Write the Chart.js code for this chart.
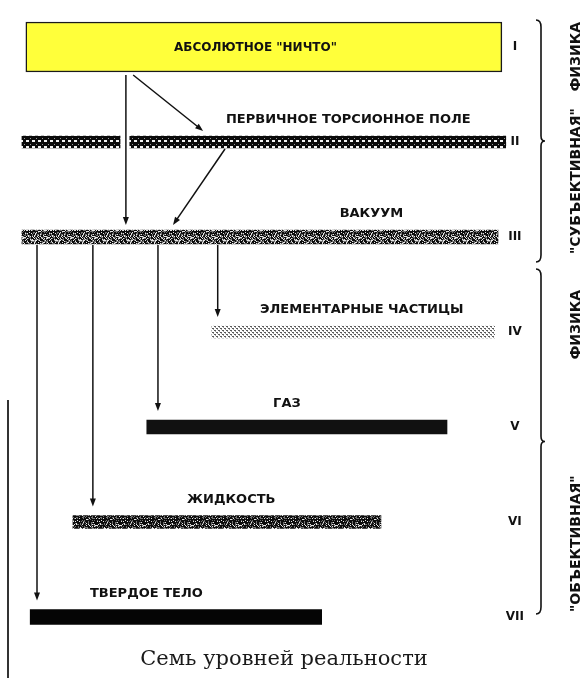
<!DOCTYPE html>
<html>
<head>
<meta charset="utf-8">
<script src="https://cdn.jsdelivr.net/npm/chart.js@4.4.0/dist/chart.umd.min.js"></script>
<style>
  html, body { margin: 0; padding: 0; background: #fff; }
</style>
</head>
<body>
<canvas id="myChart" width="584" height="678"></canvas>
<script>
var levelLabels = ['I', 'II', 'III', 'IV', 'V', 'VI', 'VII']
var levelNames = ['АБСОЛЮТНОЕ "НИЧТО"', 'ПЕРВИЧНОЕ ТОРСИОННОЕ ПОЛЕ', 'ВАКУУМ', 'ЭЛЕМЕНТАРНЫЕ ЧАСТИЦЫ', 'ГАЗ', 'ЖИДКОСТЬ', 'ТВЕРДОЕ ТЕЛО']
// extent of each level on a 0..100 horizontal scale
var levelSpans = [[1.2, 99.2], [0.4, 20.6], [0.4, 98.4], [39.5, 97.7], [26.1, 87.9], [10.9, 74.3], [2.1, 62.1]]
// level II is broken in two pieces
var secondSpans = [null, [22.6, 100], null, null, null, null, null]
// arrows: level they leave, level they reach, x at start, x at end
var arrowFrom = [0, 0, 1, 2, 2, 2, 2]
var arrowTo = [1, 2, 2, 3, 4, 5, 6]
var arrowX1 = [23.3, 21.8, 42.2, 40.7, 28.4, 15.0, 3.5]
var arrowX2 = [37.7, 21.8, 31.5, 40.7, 28.4, 15.0, 3.5]
var groupNames = [['"СУБЪЕКТИВНАЯ"', 'ФИЗИКА'], ['"ОБЪЕКТИВНАЯ"', 'ФИЗИКА']]
var caption = 'Семь уровней реальности'

// where the level names start (x on the same scale)
var nameX = [31.7, 42.4, 65.8, 49.4, 52.1, 34.4, 14.4]
var thick = [50, 12, 14, 12, 14, 13, 15]

let ctx = document.getElementById('myChart').getContext('2d')

function makePattern(w, h, paint) {
    let c = document.createElement('canvas')
    c.width = w
    c.height = h
    paint(c.getContext('2d'))
    return ctx.createPattern(c, 'repeat')
}

// fixed speckle texture (hash, not random)
function speckle(dark, mid) {
    return makePattern(24, 16, function (g) {
        for (let yy = 0; yy < 16; yy++) {
            for (let xx = 0; xx < 24; xx++) {
                let n = Math.imul(xx, 374761393) + Math.imul(yy, 668265263)
                n = Math.imul(n ^ (n >>> 13), 1274126177)
                n = (n ^ (n >>> 16)) >>> 0
                let r = (n % 1000) / 1000
                g.fillStyle = r < dark ? '#0c0c0c' : r < mid ? '#707070' : '#e6e6e6'
                g.fillRect(xx, yy, 1, 1)
            }
        }
    })
}

let beads = makePattern(6, 6, function (g) {
    g.fillStyle = '#0a0a0a'
    g.fillRect(0, 0, 6, 6)
    g.fillStyle = '#f4f4f4'
    g.fillRect(2, 2, 3, 2)
    g.fillStyle = '#9a9a9a'
    g.fillRect(0, 0, 1, 1)
})
let dots = makePattern(4, 4, function (g) {
    g.fillStyle = '#ffffff'
    g.fillRect(0, 0, 4, 4)
    g.fillStyle = '#5a5a5a'
    g.fillRect(0, 0, 2, 1)
    g.fillRect(2, 2, 2, 1)
    g.fillStyle = '#a0a0a0'
    g.fillRect(1, 1, 1, 1)
    g.fillRect(3, 3, 1, 1)
})

let fills = ['#ffff3a', beads, speckle(0.52, 0.82), dots, '#111111', speckle(0.72, 0.9), '#050505']

let datasets = levelLabels.map(function (l, i) {
    return {
        label: l,
        data: levelLabels.map(function (_, j) { return j === i ? levelSpans[i] : null }),
        backgroundColor: fills[i],
        borderColor: '#1a1a1a',
        borderWidth: i === 0 ? 1.5 : 0,
        borderSkipped: false,
        barThickness: thick[i],
        grouped: false,
        clip: false
    }
})
datasets.push({
    label: 'II b',
    data: secondSpans,
    backgroundColor: beads,
    borderWidth: 0,
    barThickness: thick[1],
    grouped: false,
    clip: false
})

function arrow(x1, y1, x2, y2) {
    let a = Math.atan2(y2 - y1, x2 - x1)
    let L = 8, W = 3
    ctx.beginPath()
    ctx.moveTo(x1, y1)
    ctx.lineTo(x2 - 4 * Math.cos(a), y2 - 4 * Math.sin(a))
    ctx.stroke()
    ctx.beginPath()
    ctx.moveTo(x2, y2)
    ctx.lineTo(x2 - L * Math.cos(a) + W * Math.sin(a), y2 - L * Math.sin(a) - W * Math.cos(a))
    ctx.lineTo(x2 - L * Math.cos(a) - W * Math.sin(a), y2 - L * Math.sin(a) + W * Math.cos(a))
    ctx.closePath()
    ctx.fill()
}

function brace(xb, top, bottom) {
    let mid = (top + bottom) / 2, w = 5
    ctx.beginPath()
    ctx.moveTo(xb - w, top)
    ctx.quadraticCurveTo(xb, top, xb, top + w + 2)
    ctx.lineTo(xb, mid - 5)
    ctx.quadraticCurveTo(xb, mid, xb + w - 1, mid)
    ctx.quadraticCurveTo(xb, mid, xb, mid + 5)
    ctx.lineTo(xb, bottom - w - 2)
    ctx.quadraticCurveTo(xb, bottom, xb - w, bottom)
    ctx.stroke()
}

function upText(text, x, y, align) {
    ctx.save()
    ctx.translate(x, y)
    ctx.rotate(-Math.PI / 2)
    ctx.textAlign = align
    ctx.fillText(text, 0, 0)
    ctx.restore()
}

let decor = {
    id: 'decor',
    afterDatasetsDraw(chart) {
        let xs = chart.scales.x, ys = chart.scales.y
        ctx.save()
        ctx.fillStyle = '#111'
        ctx.strokeStyle = '#111'
        ctx.textBaseline = 'middle'
        ctx.textAlign = 'left'

        levelNames.forEach(function (n, i) {
            let cy = ys.getPixelForValue(i)
            ctx.font = (i === 0 ? 'bold 12px' : 'bold 13px') + ' "DejaVu Sans"'
            let ty = i === 0 ? cy + 1 : cy - thick[i] / 2 - 16
            ctx.fillText(n, xs.getPixelForValue(nameX[i]), ty)
        })

        ctx.lineWidth = 1.5
        arrowFrom.forEach(function (f, k) {
            let t = arrowTo[k]
            let y1 = ys.getPixelForValue(f) + thick[f] / 2 + (f === 0 ? 3 : 1)
            let y2 = ys.getPixelForValue(t) - thick[t] / 2 - (t < 3 ? 5 : 9)
            arrow(xs.getPixelForValue(arrowX1[k]), y1, xs.getPixelForValue(arrowX2[k]), y2)
        })

        // braces on the right
        let yI = ys.getPixelForValue(0), yIII = ys.getPixelForValue(2), yVII = ys.getPixelForValue(6)
        let b1 = [yI - 27, yIII + 25], b2 = [yIII + 32, yVII - 3]
        ctx.lineWidth = 1.6
        brace(541, b1[0], b1[1])
        brace(541, b2[0], b2[1])

        ctx.font = 'bold 14px "DejaVu Sans"'
        ctx.textBaseline = 'middle'
        upText(groupNames[0][0], 576, b1[1] - 8, 'left')
        upText(groupNames[0][1], 576, b1[0] + 2, 'right')
        upText(groupNames[1][0], 576, b2[1] - 2, 'left')
        upText(groupNames[1][1], 576, b2[0] + 21, 'right')

        // caption under the figure
        ctx.font = '21px "DejaVu Serif"'
        ctx.fillStyle = '#1a1a1a'
        ctx.textAlign = 'center'
        ctx.fillText(caption, 284, 660)

        // scan edge on the left
        ctx.strokeStyle = '#333'
        ctx.lineWidth = 2
        ctx.beginPath()
        ctx.moveTo(8, 400)
        ctx.lineTo(8, 678)
        ctx.stroke()
        ctx.restore()
    }
}

let myChart = new Chart(ctx, {
    type: 'bar',
    data: {
        labels: levelLabels,
        datasets: datasets
    },
    options: {
        indexAxis: 'y',
        responsive: false,
        animation: false,
        layout: { padding: { left: 20, right: 60, top: 47, bottom: 61 } },
        plugins: {
            legend: { display: false },
            tooltip: { enabled: false },
            title: { display: false }
        },
        scales: {
            x: { display: false, min: 0, max: 100 },
            y: {
                position: 'right',
                offset: false,
                grid: { display: false, drawTicks: false },
                border: { display: false },
                ticks: {
                    color: '#111',
                    padding: 0,
                    crossAlign: 'center',
                    font: { family: '"DejaVu Sans"', size: 12, weight: 'bold' }
                }
            }
        }
    },
    plugins: [decor]
})
</script>
</body>
</html>
